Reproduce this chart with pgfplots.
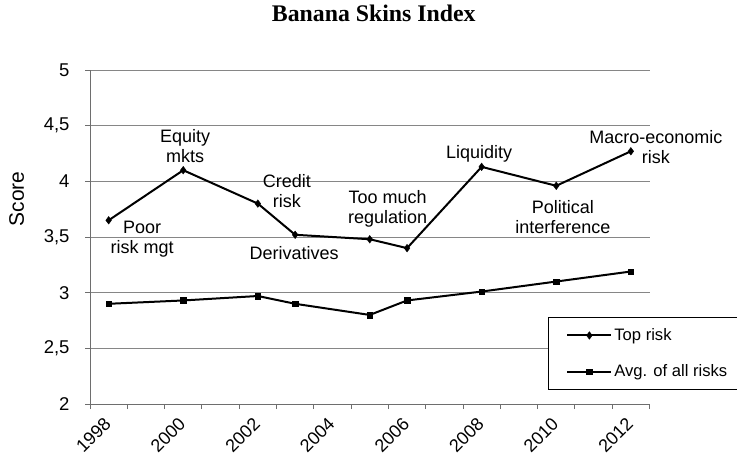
\documentclass[border=0pt]{standalone}
\usepackage{fontspec}
\setmainfont{Liberation Sans}
\newfontfamily\titlefont{Liberation Serif}
\usepackage{pgfplots}
\pgfplotsset{compat=1.18}
\definecolor{gridgray}{RGB}{134,134,134}
\definecolor{axisgray}{RGB}{110,110,110}
\newcommand{\annfont}{\fontsize{18}{20}\selectfont}
\begin{document}
\begin{tikzpicture}[x=1pt,y=1pt]
\useasboundingbox (-90,-57) rectangle (647,404);
\begin{axis}[
  at={(0,0)}, anchor=south west,
  scale only axis, width=559.5pt, height=334pt,
  xmin=1997.5, xmax=2012.5, ymin=2, ymax=5,
  clip=false,
  axis x line=bottom, axis y line=left,
  axis line style={-, draw=axisgray, line width=0.8pt},
  ytick={2,2.5,3,3.5,4,4.5,5},
  ymajorgrids, major grid style={draw=gridgray, line width=0.8pt},
  xtick={1997.85,1999.85,2001.85,2003.85,2005.85,2007.85,2009.85,2011.85},
  xticklabels={1998,2000,2002,2004,2006,2008,2010,2012},
  minor xtick={1997.5,1998.5,...,2012.5},
  major x tick style={draw=none},
  minor x tick style={draw=axisgray, line width=0.8pt},
  major y tick style={draw=axisgray, line width=0.8pt},
  tick align=outside,
  major tick length=5pt, minor tick length=5pt,
  /pgf/number format/.cd, use comma, 1000 sep={}, assume math mode=true,
  /pgfplots/.cd,
  yticklabel style={font=\fontsize{18.5}{18.5}\selectfont, xshift=-12pt},
  xticklabel shift=7pt,
  xticklabel style={font=\fontsize{18}{18}\selectfont, rotate=45, anchor=north east, inner sep=0pt},
  title={Banana Skins Index},
  title style={at={(0.5072,1.1278)}, anchor=base, font={\fontsize{23.8}{26}\titlefont\bfseries}},
  ylabel={Score},
  ylabel style={at={(-0.131,0.614)}, anchor=center, font=\fontsize{21}{21}\selectfont},
  legend style={at={(0.8186,0.2605)}, anchor=north west, draw=black, line width=0.8pt,
    font=\fontsize{16.6}{18}\selectfont, inner xsep=18pt, inner ysep=9.3pt, row sep=18.7pt},
  legend cell align=left,
  legend image code/.code={\draw[#1, mark repeat=2, mark phase=2] plot coordinates {(0pt,0pt) (22pt,0pt) (44pt,0pt)};},
]
\addplot[black, line width=2pt, mark=diamond*, mark size=3.8pt, mark options={solid, line width=0.4pt}]
  coordinates {(1998,3.65)(2000,4.10)(2002,3.80)(2003,3.52)(2005,3.48)(2006,3.40)(2008,4.13)(2010,3.96)(2012,4.27)};
\addlegendentry{Top risk}
\addplot[black, line width=2pt, mark=square*, mark size=2.8pt, mark options={solid, line width=0.4pt}]
  coordinates {(1998,2.90)(2000,2.93)(2002,2.97)(2003,2.90)(2005,2.80)(2006,2.93)(2008,3.01)(2010,3.10)(2012,3.19)};
\addlegendentry{Avg. of all risks\hspace*{50pt}}
\node[align=center, font=\annfont] at (axis cs:2000.05,4.313) {Equity\\mkts};
\node[align=center, font=\annfont] at (axis cs:1998.9,3.482) {Poor\\risk mgt};
\node[align=center, font=\annfont] at (axis cs:2002.78,3.913) {Credit\\risk};
\node[align=center, font=\annfont] at (axis cs:2002.97,3.353) {Derivatives};
\node[align=center, font=\annfont] at (axis cs:2005.48,3.757) {Too much\\regulation};
\node[align=center, font=\annfont] at (axis cs:2007.93,4.245) {Liquidity};
\node[align=center, font=\annfont] at (axis cs:2010.18,3.677) {Political\\interference};
\node[align=center, font=\annfont] at (axis cs:2012.67,4.311) {Macro-economic\\risk};
\end{axis}
\end{tikzpicture}
\end{document}
